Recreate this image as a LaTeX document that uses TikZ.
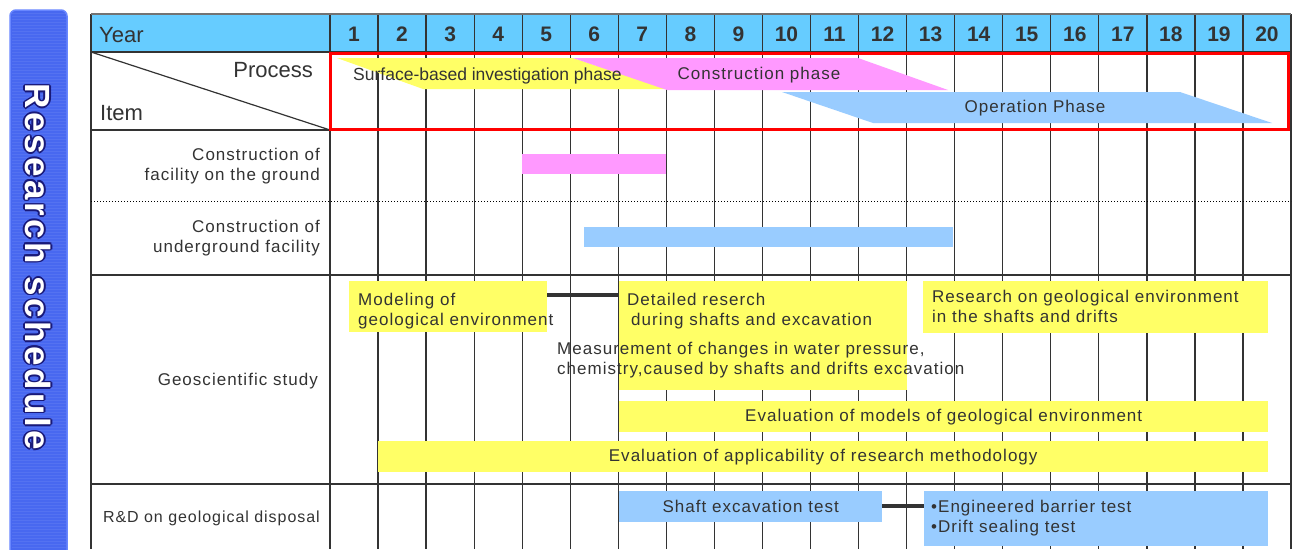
\documentclass[tikz,border=0pt]{standalone}
\usepackage{fontspec}
\setmainfont{Liberation Sans}
\newfontfamily\lblfont[LetterSpace=6]{Liberation Sans}
\newfontfamily\ttlfont[LetterSpace=9]{Liberation Sans}
\definecolor{headerblue}{HTML}{66CCFF}
\definecolor{yellowc}{HTML}{FFFF66}
\definecolor{pinkc}{HTML}{FF99FF}
\definecolor{bluec}{HTML}{99CCFF}
\definecolor{txt}{HTML}{333333}
\definecolor{barblue}{RGB}{72,104,240}
\definecolor{barborder}{RGB}{105,135,255}
\definecolor{outlineblue}{RGB}{25,25,120}
\definecolor{redbox}{HTML}{FF0000}
\tikzset{
  gridline/.style={draw=txt, line width=1.3pt},
  barbox/.style={draw=none, inner sep=0pt, anchor=north west},
  lbl/.style={font=\lblfont\fontsize{17}{20}\selectfont, text=txt, inner sep=0pt},
  hdr/.style={font=\fontsize{22}{24}\selectfont, text=txt, inner sep=0pt},
  num/.style={font=\bfseries\fontsize{21}{23}\selectfont, text=txt, inner sep=0pt},
  conn/.style={draw=txt, line width=4pt},
  titletext/.style={rotate=-90, font=\ttlfont\bfseries\fontsize{35}{37}\selectfont, inner sep=0pt}
}
\begin{document}
\begin{tikzpicture}[x=1pt,y=-1pt]
\useasboundingbox (0,0) rectangle (1297,549);
\fill[white] (0,0) rectangle (1297,549);
% header fill
\fill[headerblue] (91,14) rectangle (1290,52);
% grid
\foreach \k in {0,...,20} \draw[gridline] ({330+48.05*\k},14) -- ({330+48.05*\k},549);
\draw[gridline] (91,14) -- (91,549);
\draw[draw=black!55, line width=2pt] (91,14) -- (1291,14);
\foreach \yy in {52,130,275,484} \draw[gridline] (91,\yy) -- (1291,\yy);
\draw[black, line width=1pt, dotted] (91,201) -- (1291,201);
\draw[draw=txt, line width=1.2pt] (91,52) -- (330,130);
% process phase shapes
\fill[yellowc] (337,58) -- (573,58) -- (667,89) -- (423,89) -- cycle;
\fill[pinkc] (573,58) -- (858,58) -- (948,90) -- (667,90) -- cycle;
\fill[bluec] (782,92) -- (1180,92) -- (1272,123) -- (873,123) -- cycle;
\draw[redbox, line width=3pt] (330,53) rectangle (1288,129);
% header texts
\node[hdr, anchor=west] (year) at (99,35) {Year};
\foreach \k in {1,...,20} \node[num] (y\k) at ({330+48.05*(\k-0.5)},34) {\k};
\node[hdr, anchor=east] (process) at (313,70) {Process};
\node[hdr, anchor=west] (item) at (100,113) {Item};
\node[lbl, anchor=west, font=\fontsize{17.5}{20}\selectfont] (surface) at (353,76) {Surface-based investigation phase};
\node[lbl] (constr) at (759,75) {Construction phase};
\node[lbl] (oper) at (1035,108) {Operation Phase};
% item labels
\node[lbl, anchor=east, align=right] (lfac) at (320,166) {Construction of\\facility on the ground};
\node[lbl, anchor=east, align=right] (lund) at (320,238) {Construction of\\underground facility};
\node[lbl, anchor=east] (lgeo) at (318,381) {Geoscientific study};
\node[lbl, anchor=east, font=\lblfont\fontsize{16}{18}\selectfont] (lrd) at (320,518) {R\&D on geological disposal};
% construction bars
\node[barbox, fill=pinkc, minimum width=144pt, minimum height=20pt] (facility) at (522,154) {};
\node[barbox, fill=bluec, minimum width=369pt, minimum height=20pt] (underground) at (584,227) {};
% geoscientific
\node[barbox, fill=yellowc, minimum width=198pt, minimum height=51pt] (model) at (349,281) {};
\node[barbox, fill=yellowc, minimum width=288pt, minimum height=109pt] (detailed) at (619,281) {};
\draw[conn] ([yshift=-14pt]model.north east) -- ([yshift=-14pt]detailed.north west);
\node[barbox, fill=yellowc, minimum width=345pt, minimum height=52pt] (research) at (923,281) {};
\node[barbox, fill=yellowc, minimum width=649pt, minimum height=31pt] (models) at (619,401) {};
\node[barbox, fill=yellowc, minimum width=890pt, minimum height=31pt] (applic) at (378,441) {};
\node[lbl, anchor=west, align=left] (tmodel) at (358,311) {Modeling of\\geological environment};
\node[lbl, anchor=west, align=left] (tdetailed) at (627,311) {Detailed reserch\\\hspace{4pt}during shafts and excavation};
\node[lbl, anchor=west, align=left] (tmeasure) at (557,360) {Measurement of changes in water pressure,\\chemistry,caused by shafts and drifts excavation};
\node[lbl, anchor=west, align=left] (tresearch) at (932,306) {Research on geological environment\\in the shafts and drifts};
\node[lbl] (tmodels) at (models.center) {Evaluation of models of geological environment};
\node[lbl] (tapplic) at (applic.center) {Evaluation of applicability of research methodology};
% R&D
\node[barbox, fill=bluec, minimum width=263pt, minimum height=31pt] (shaft) at (619,491) {};
\node[barbox, fill=bluec, minimum width=344pt, minimum height=55pt] (engbox) at (924,491) {};
\draw[conn] ([yshift=-15pt]shaft.north east) -- ([yshift=-15pt]engbox.north west);
\node[lbl] (tshaft) at (shaft.center) {Shaft excavation test};
\node[lbl, anchor=west, align=left] (teng) at (931,518) {\textbullet Engineered barrier test\\\textbullet Drift sealing test};
% left title bar
\draw[fill=barblue, draw=barborder, line width=1.5pt, rounded corners=6pt] (10,10) rectangle (67,590);
\foreach \yy in {13,16,...,549} \draw[white, opacity=0.07, line width=1pt] (11.5,\yy) -- (65.5,\yy);
\foreach \dx/\dy in {-1.6/0,1.6/0,0/-1.6,0/1.6,-1.1/-1.1,1.1/1.1,-1.1/1.1,1.1/-1.1}
  \node[titletext, text=outlineblue] at ({38+\dx},{267+\dy}) {Research schedule};
\node[titletext, text=white] (title) at (38,267) {Research schedule};
\end{tikzpicture}
\end{document}
